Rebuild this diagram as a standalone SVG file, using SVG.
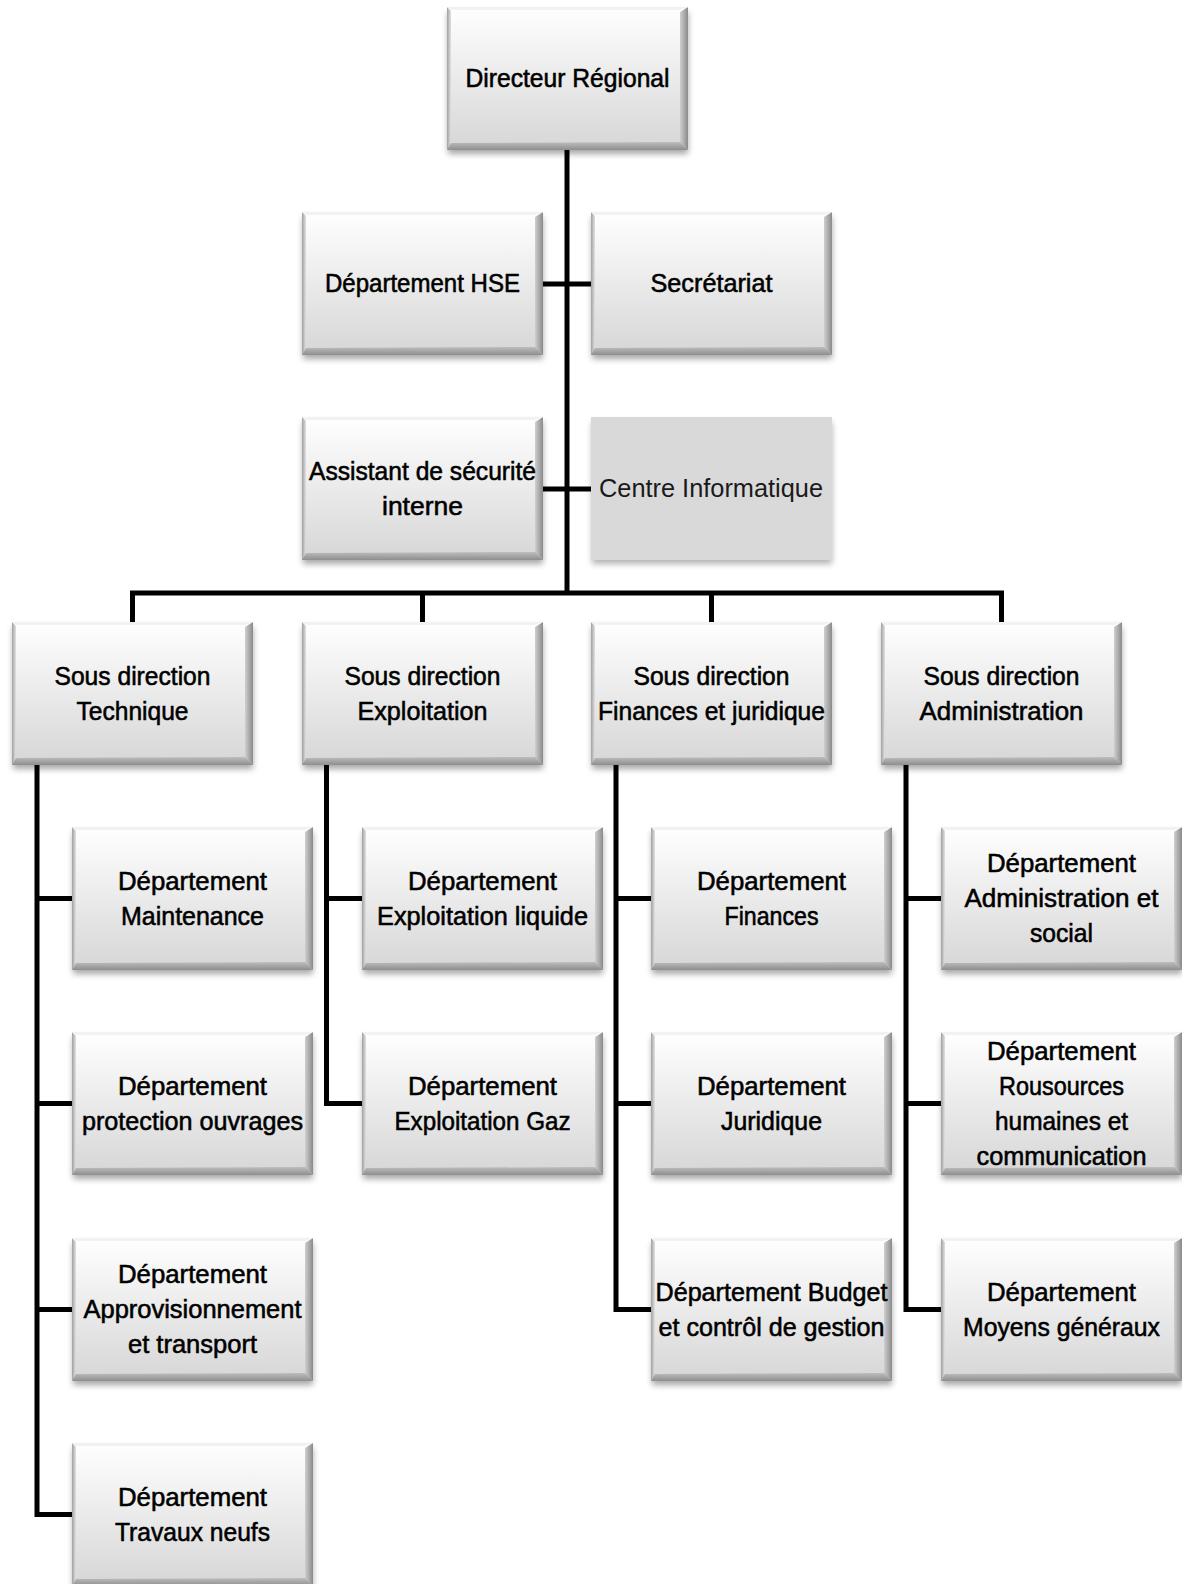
<svg xmlns="http://www.w3.org/2000/svg" xmlns:xlink="http://www.w3.org/1999/xlink" width="1182" height="1584" viewBox="0 0 1182 1584">
<style>
.t{font-family:"Liberation Sans",Arial,sans-serif;font-size:25px;text-anchor:middle;fill:#000;stroke:#000;stroke-width:0.55px;}
.ci{font-family:"Liberation Sans",Arial,sans-serif;font-size:25px;text-anchor:middle;fill:#1a1a1a;}
.c{fill:none;stroke:#000;stroke-width:5;stroke-linejoin:miter;stroke-linecap:butt;}
</style>
<defs>
<linearGradient id="face" x1="0" y1="0" x2="0" y2="1"><stop offset="0" stop-color="#ffffff"/><stop offset="1" stop-color="#d6d6d6"/></linearGradient>
<linearGradient id="rb" x1="0" y1="0" x2="1" y2="0"><stop offset="0" stop-color="#cfcfcf"/><stop offset="1" stop-color="#8a8a8a"/></linearGradient>
<linearGradient id="bb" x1="0" y1="0" x2="0" y2="1"><stop offset="0" stop-color="#bdbdbd"/><stop offset="1" stop-color="#8e8e8e"/></linearGradient>
<linearGradient id="lb" x1="0" y1="0" x2="1" y2="0"><stop offset="0" stop-color="#a0a0a0"/><stop offset="1" stop-color="#e2e2e2"/></linearGradient>
<filter id="sh" x="-10%" y="-10%" width="120%" height="130%"><feGaussianBlur stdDeviation="3"/></filter>
<g id="bx">
<rect x="1" y="5" width="240" height="142" fill="#000" opacity="0.35" filter="url(#sh)"/>
<rect width="241" height="143" fill="url(#face)"/>
<polygon points="0,0 4,4 4,136 0,143" fill="url(#lb)"/>
<polygon points="241,0 241,143 233,135 233,5" fill="url(#rb)"/>
<polygon points="0,143 241,143 233,135 4,136" fill="url(#bb)"/>
<polygon points="0,0 241,0 233,3 4,3" fill="#f2f2f2"/>
</g>
<g id="flat">
<rect x="1" y="5" width="240" height="142" fill="#000" opacity="0.3" filter="url(#sh)"/>
<rect width="241" height="143" fill="#d9d9d9"/>
</g>
</defs>
<rect width="1182" height="1584" fill="#fff"/>
<g id="connectors">
<path class="c" d="M567,149 V593"/>
<path class="c" d="M543,284 H591"/>
<path class="c" d="M543,489 H591"/>
<path class="c" d="M132.5,622 V593 H1001.5 V622"/>
<path class="c" d="M422.5,593 V622"/>
<path class="c" d="M711.5,593 V622"/>
<path class="c" d="M37,765 V1514.5 H72"/>
<path class="c" d="M37,898.5 H72 M37,1103.5 H72 M37,1309.5 H72"/>
<path class="c" d="M326.5,765 V1103.5 H362"/>
<path class="c" d="M326.5,898.5 H362"/>
<path class="c" d="M616,765 V1309.5 H651"/>
<path class="c" d="M616,898.5 H651 M616,1103.5 H651"/>
<path class="c" d="M906,765 V1309.5 H941"/>
<path class="c" d="M906,898.5 H941 M906,1103.5 H941"/>
</g>
<g id="directeur"><use xlink:href="#bx" x="447" y="7"/><text class="t" x="567.5" y="86.5" textLength="204" lengthAdjust="spacingAndGlyphs">Directeur Régional</text></g>
<g id="hse"><use xlink:href="#bx" x="302" y="212"/><text class="t" x="422.5" y="292" textLength="195" lengthAdjust="spacingAndGlyphs">Département HSE</text></g>
<g id="secretariat"><use xlink:href="#bx" x="591" y="212"/><text class="t" x="711.5" y="292" textLength="122" lengthAdjust="spacingAndGlyphs">Secrétariat</text></g>
<g id="assistant"><use xlink:href="#bx" x="302" y="417"/><text class="t" x="422.5" y="480" textLength="227" lengthAdjust="spacingAndGlyphs">Assistant de sécurité</text><text class="t" x="422.5" y="515" textLength="81" lengthAdjust="spacingAndGlyphs">interne</text></g>
<g id="centre"><use xlink:href="#flat" x="591" y="417"/><text class="ci" x="711" y="497" textLength="224" lengthAdjust="spacingAndGlyphs">Centre Informatique</text></g>
<g id="sd-technique"><use xlink:href="#bx" x="12" y="622"/><text class="t" x="132.5" y="685" textLength="156" lengthAdjust="spacingAndGlyphs">Sous direction</text><text class="t" x="132.5" y="720" textLength="112" lengthAdjust="spacingAndGlyphs">Technique</text></g>
<g id="sd-exploitation"><use xlink:href="#bx" x="302" y="622"/><text class="t" x="422.5" y="685" textLength="156" lengthAdjust="spacingAndGlyphs">Sous direction</text><text class="t" x="422.5" y="720" textLength="130" lengthAdjust="spacingAndGlyphs">Exploitation</text></g>
<g id="sd-finances"><use xlink:href="#bx" x="591" y="622"/><text class="t" x="711.5" y="685" textLength="156" lengthAdjust="spacingAndGlyphs">Sous direction</text><text class="t" x="711.5" y="720" textLength="227" lengthAdjust="spacingAndGlyphs">Finances et juridique</text></g>
<g id="sd-administration"><use xlink:href="#bx" x="881" y="622"/><text class="t" x="1001.5" y="685" textLength="156" lengthAdjust="spacingAndGlyphs">Sous direction</text><text class="t" x="1001.5" y="720" textLength="164" lengthAdjust="spacingAndGlyphs">Administration</text></g>
<g id="dep-maintenance"><use xlink:href="#bx" x="72" y="827"/><text class="t" x="192.5" y="890" textLength="149" lengthAdjust="spacingAndGlyphs">Département</text><text class="t" x="192.5" y="925" textLength="143" lengthAdjust="spacingAndGlyphs">Maintenance</text></g>
<g id="dep-protection"><use xlink:href="#bx" x="72" y="1032"/><text class="t" x="192.5" y="1095" textLength="149" lengthAdjust="spacingAndGlyphs">Département</text><text class="t" x="192.5" y="1130" textLength="221" lengthAdjust="spacingAndGlyphs">protection ouvrages</text></g>
<g id="dep-approvisionnement"><use xlink:href="#bx" x="72" y="1238"/><text class="t" x="192.5" y="1283" textLength="149" lengthAdjust="spacingAndGlyphs">Département</text><text class="t" x="192.5" y="1318" textLength="218" lengthAdjust="spacingAndGlyphs">Approvisionnement</text><text class="t" x="192.5" y="1353" textLength="129" lengthAdjust="spacingAndGlyphs">et transport</text></g>
<g id="dep-travaux"><use xlink:href="#bx" x="72" y="1443"/><text class="t" x="192.5" y="1506" textLength="149" lengthAdjust="spacingAndGlyphs">Département</text><text class="t" x="192.5" y="1541" textLength="155" lengthAdjust="spacingAndGlyphs">Travaux neufs</text></g>
<g id="dep-expl-liquide"><use xlink:href="#bx" x="362" y="827"/><text class="t" x="482.5" y="890" textLength="149" lengthAdjust="spacingAndGlyphs">Département</text><text class="t" x="482.5" y="925" textLength="211" lengthAdjust="spacingAndGlyphs">Exploitation liquide</text></g>
<g id="dep-expl-gaz"><use xlink:href="#bx" x="362" y="1032"/><text class="t" x="482.5" y="1095" textLength="149" lengthAdjust="spacingAndGlyphs">Département</text><text class="t" x="482.5" y="1130" textLength="176" lengthAdjust="spacingAndGlyphs">Exploitation Gaz</text></g>
<g id="dep-finances"><use xlink:href="#bx" x="651" y="827"/><text class="t" x="771.5" y="890" textLength="149" lengthAdjust="spacingAndGlyphs">Département</text><text class="t" x="771.5" y="925" textLength="94" lengthAdjust="spacingAndGlyphs">Finances</text></g>
<g id="dep-juridique"><use xlink:href="#bx" x="651" y="1032"/><text class="t" x="771.5" y="1095" textLength="149" lengthAdjust="spacingAndGlyphs">Département</text><text class="t" x="771.5" y="1130" textLength="101" lengthAdjust="spacingAndGlyphs">Juridique</text></g>
<g id="dep-budget"><use xlink:href="#bx" x="651" y="1238"/><text class="t" x="771.5" y="1301" textLength="232" lengthAdjust="spacingAndGlyphs">Département Budget</text><text class="t" x="771.5" y="1336" textLength="226" lengthAdjust="spacingAndGlyphs">et contrôl de gestion</text></g>
<g id="dep-admin-social"><use xlink:href="#bx" x="941" y="827"/><text class="t" x="1061.5" y="872" textLength="149" lengthAdjust="spacingAndGlyphs">Département</text><text class="t" x="1061.5" y="907" textLength="194" lengthAdjust="spacingAndGlyphs">Administration et</text><text class="t" x="1061.5" y="942" textLength="63" lengthAdjust="spacingAndGlyphs">social</text></g>
<g id="dep-rh"><use xlink:href="#bx" x="941" y="1032"/><text class="t" x="1061.5" y="1059.5" textLength="149" lengthAdjust="spacingAndGlyphs">Département</text><text class="t" x="1061.5" y="1094.5" textLength="125" lengthAdjust="spacingAndGlyphs">Rousources</text><text class="t" x="1061.5" y="1129.5" textLength="133" lengthAdjust="spacingAndGlyphs">humaines et</text><text class="t" x="1061.5" y="1164.5" textLength="170" lengthAdjust="spacingAndGlyphs">communication</text></g>
<g id="dep-moyens"><use xlink:href="#bx" x="941" y="1238"/><text class="t" x="1061.5" y="1301" textLength="149" lengthAdjust="spacingAndGlyphs">Département</text><text class="t" x="1061.5" y="1336" textLength="197" lengthAdjust="spacingAndGlyphs">Moyens généraux</text></g>
</svg>
